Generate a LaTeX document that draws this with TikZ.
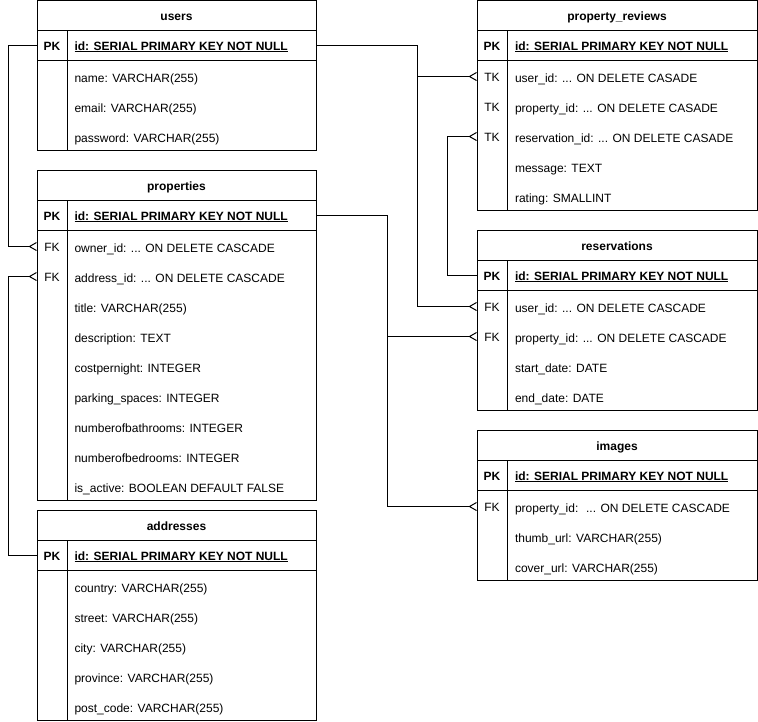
\documentclass[tikz,border=0pt]{standalone}
\usepackage{fontspec}
\setmainfont{Liberation Sans}
\usetikzlibrary{positioning,arrows.meta}

\newcommand{\erdots}{...}
\tikzset{
  every node/.style={font=\fontsize{12}{14}\selectfont, text height=9pt, text depth=0pt},
  ttl/.style={draw, anchor=north west, minimum width=#1, minimum height=30pt, inner sep=0pt,
    outer sep=0pt, font=\fontsize{12}{14}\selectfont\bfseries},
  ttl/.default=279pt,
  box/.style={draw, minimum width=#1, inner sep=0pt, outer sep=0pt},
  box/.default=279pt,
  key/.style={inner sep=0pt},
  pkkey/.style={key, font=\fontsize{12}{14}\selectfont\bfseries},
  fld/.style={anchor=west, inner sep=0pt},
  pkfld/.style={fld, font=\fontsize{12}{14}\selectfont\bfseries},
  rel/.style={-{Straight Barb[reversed, length=7pt, width=8pt]}},
}

\begin{document}
\begin{tikzpicture}[x=1pt, y=-1pt, line width=1pt]
  \useasboundingbox (0,0) rectangle (758,721);

  % users
  \node[ttl] (users) at (37,0.5) {users};
  \node[box, minimum height=30pt, below=0pt of users] (users-pk) {};
  \node[box, minimum height=90pt, below=0pt of users-pk] (users-body) {};
  \draw ([xshift=30pt]users-pk.north west) -- ([xshift=30pt]users-body.south west);
  \node[pkkey] (users-pkkey) at ([xshift=15pt]users-pk.west) {PK};
  \node[pkfld] at ([xshift=37pt]users-pk.west) {\underline{id: SERIAL PRIMARY KEY NOT NULL}};
  \foreach \f [count=\i] in {{name: VARCHAR(255)}, {email: VARCHAR(255)}, {password: VARCHAR(255)}}
    \node[fld] at ([xshift=37pt, yshift={13pt-30pt*\i}]users-body.north west) {\f};

  % properties
  \node[ttl] (properties) at (37,170.5) {properties};
  \node[box, minimum height=30pt, below=0pt of properties] (prop-pk) {};
  \node[box, minimum height=270pt, below=0pt of prop-pk] (prop-body) {};
  \draw ([xshift=30pt]prop-pk.north west) -- ([xshift=30pt]prop-body.south west);
  \node[pkkey] (prop-pkkey) at ([xshift=15pt]prop-pk.west) {PK};
  \node[pkfld] at ([xshift=37pt]prop-pk.west) {\underline{id: SERIAL PRIMARY KEY NOT NULL}};
  \node[key] (prop-owner) at ([xshift=15pt, yshift=-16pt]prop-body.north west) {FK};
  \node[key] (prop-addr) at ([xshift=15pt, yshift=-46pt]prop-body.north west) {FK};
  \foreach \f [count=\i] in {{owner\_id: \erdots{} ON DELETE CASCADE}, {address\_id: \erdots{} ON DELETE CASCADE},
      {title: VARCHAR(255)}, {description: TEXT}, {costpernight: INTEGER}, {parking\_spaces: INTEGER},
      {numberofbathrooms: INTEGER}, {numberofbedrooms: INTEGER}, {is\_active: BOOLEAN DEFAULT FALSE}}
    \node[fld] at ([xshift=37pt, yshift={13pt-30pt*\i}]prop-body.north west) {\f};

  % addresses
  \node[ttl] (addresses) at (37,510.5) {addresses};
  \node[box, minimum height=30pt, below=0pt of addresses] (addr-pk) {};
  \node[box, minimum height=150pt, below=0pt of addr-pk] (addr-body) {};
  \draw ([xshift=30pt]addr-pk.north west) -- ([xshift=30pt]addr-body.south west);
  \node[pkkey] (addr-pkkey) at ([xshift=15pt]addr-pk.west) {PK};
  \node[pkfld] at ([xshift=37pt]addr-pk.west) {\underline{id: SERIAL PRIMARY KEY NOT NULL}};
  \foreach \f [count=\i] in {{country: VARCHAR(255)}, {street: VARCHAR(255)}, {city: VARCHAR(255)},
      {province: VARCHAR(255)}, {post\_code: VARCHAR(255)}}
    \node[fld] at ([xshift=37pt, yshift={13pt-30pt*\i}]addr-body.north west) {\f};

  % property_reviews
  \node[ttl=280pt] (reviews) at (477,0.5) {property\_reviews};
  \node[box=280pt, minimum height=30pt, below=0pt of reviews] (rev-pk) {};
  \node[box=280pt, minimum height=150pt, below=0pt of rev-pk] (rev-body) {};
  \draw ([xshift=30pt]rev-pk.north west) -- ([xshift=30pt]rev-body.south west);
  \node[pkkey] (rev-pkkey) at ([xshift=15pt]rev-pk.west) {PK};
  \node[pkfld] at ([xshift=37.5pt]rev-pk.west) {\underline{id: SERIAL PRIMARY KEY NOT NULL}};
  \node[key] (rev-user) at ([xshift=15pt, yshift=-16pt]rev-body.north west) {TK};
  \node[key] (rev-prop) at ([xshift=15pt, yshift=-46pt]rev-body.north west) {TK};
  \node[key] (rev-res) at ([xshift=15pt, yshift=-76pt]rev-body.north west) {TK};
  \foreach \f [count=\i] in {{user\_id: \erdots{} ON DELETE CASADE}, {property\_id: \erdots{} ON DELETE CASADE},
      {reservation\_id: \erdots{} ON DELETE CASADE}, {message: TEXT}, {rating: SMALLINT}}
    \node[fld] at ([xshift=37.5pt, yshift={13pt-30pt*\i}]rev-body.north west) {\f};

  % reservations
  \node[ttl=280pt] (reservations) at (477,230.5) {reservations};
  \node[box=280pt, minimum height=30pt, below=0pt of reservations] (res-pk) {};
  \node[box=280pt, minimum height=120pt, below=0pt of res-pk] (res-body) {};
  \draw ([xshift=30pt]res-pk.north west) -- ([xshift=30pt]res-body.south west);
  \node[pkkey] (res-pkkey) at ([xshift=15pt]res-pk.west) {PK};
  \node[pkfld] at ([xshift=37.5pt]res-pk.west) {\underline{id: SERIAL PRIMARY KEY NOT NULL}};
  \node[key] (res-user) at ([xshift=15pt, yshift=-16pt]res-body.north west) {FK};
  \node[key] (res-prop) at ([xshift=15pt, yshift=-46pt]res-body.north west) {FK};
  \foreach \f [count=\i] in {{user\_id: \erdots{} ON DELETE CASCADE}, {property\_id: \erdots{} ON DELETE CASCADE},
      {start\_date: DATE}, {end\_date: DATE}}
    \node[fld] at ([xshift=37.5pt, yshift={13pt-30pt*\i}]res-body.north west) {\f};

  % images
  \node[ttl=280pt] (images) at (477,430.5) {images};
  \node[box=280pt, minimum height=30pt, below=0pt of images] (img-pk) {};
  \node[box=280pt, minimum height=90pt, below=0pt of img-pk] (img-body) {};
  \draw ([xshift=30pt]img-pk.north west) -- ([xshift=30pt]img-body.south west);
  \node[pkkey] (img-pkkey) at ([xshift=15pt]img-pk.west) {PK};
  \node[pkfld] at ([xshift=37.5pt]img-pk.west) {\underline{id: SERIAL PRIMARY KEY NOT NULL}};
  \node[key] (img-prop) at ([xshift=15pt, yshift=-16pt]img-body.north west) {FK};
  \foreach \f [count=\i] in {{property\_id: \ \erdots{} ON DELETE CASCADE}, {thumb\_url: VARCHAR(255)},
      {cover\_url: VARCHAR(255)}}
    \node[fld] at ([xshift=37.5pt, yshift={13pt-30pt*\i}]img-body.north west) {\f};

  % relations
  \coordinate (ujoin) at ([xshift=101pt]users-pkkey -| users.east);
  \coordinate (pjoin) at ([xshift=71pt]prop-pkkey -| properties.east);
  \draw[rel] (users-pkkey -| users.west) -- ++(-29,0) |- (prop-owner -| properties.west);
  \draw[rel] (addr-pkkey -| addresses.west) -- ++(-29,0) |- (prop-addr -| properties.west);
  \draw[rel] (users-pkkey -| users.east) -- (ujoin) |- (res-user -| reservations.west);
  \draw[rel] (ujoin |- rev-user) -- (rev-user -| reviews.west);
  \draw[rel] (prop-pkkey -| properties.east) -- (pjoin) |- (img-prop -| images.west);
  \draw[rel] (pjoin |- res-prop) -- (res-prop -| reservations.west);
  \draw[rel] (res-pkkey -| reservations.west) -- ++(-30,0) |- (rev-res -| reviews.west);
\end{tikzpicture}
\end{document}
